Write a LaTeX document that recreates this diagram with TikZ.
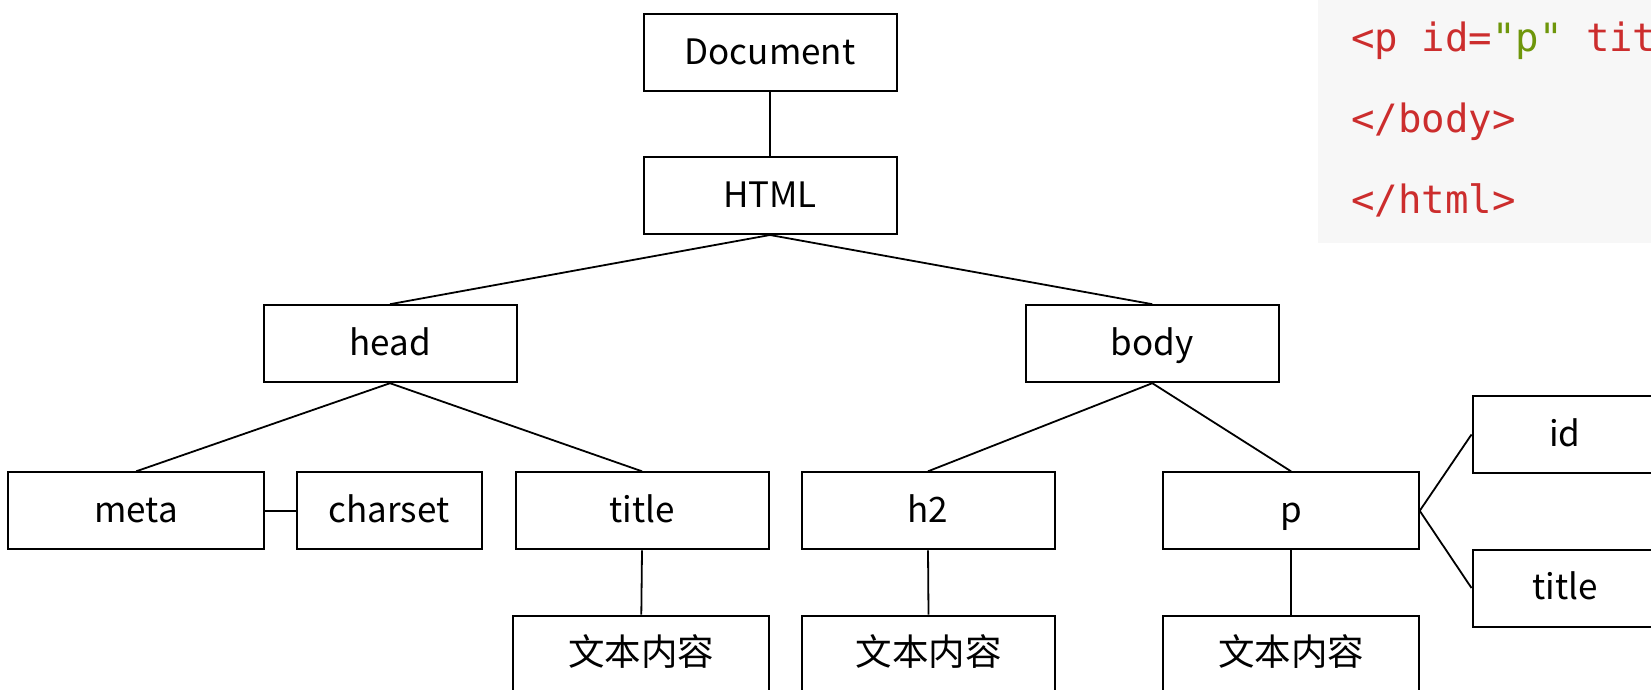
\documentclass[tikz,border=0pt]{standalone}
\usepackage{fontspec}
\setmainfont{Noto Sans CJK SC}
\newfontfamily\codefont{DejaVu Sans Mono}
\definecolor{codebg}{RGB}{247,247,247}
\definecolor{codered}{RGB}{204,45,45}
\definecolor{codegreen}{RGB}{110,150,10}
\begin{document}
\begin{tikzpicture}[x=1pt,y=-1pt,
  tbox/.style={draw=black,line width=2pt,fill=white,inner sep=0pt,
    minimum width=253pt,minimum height=77pt,
    font=\fontsize{35}{40}\selectfont,text height=23pt,text depth=0pt},
  sbox/.style={tbox,minimum width=185pt},
  cjkbox/.style={tbox,font=\fontsize{36.5}{40}\selectfont},
  link/.style={draw=black,line width=1.8pt},
  codetxt/.style={anchor=base west,inner sep=0pt,text=codered,
    font=\codefont\fontsize{39}{45}\selectfont}]
\useasboundingbox (0,0) rectangle (1651,690);
\clip (0,0) rectangle (1651,690);
\fill[white] (0,0) rectangle (1651,690);
% code panel
\fill[codebg] (1318,0) rectangle (1651,243);
\node[codetxt] (c1) at (1351,52) {<p id=\textcolor{codegreen}{"p"} tit};
\node[codetxt] (c2) at (1351,132) {</body>};
\node[codetxt] (c3) at (1351,213) {</html>};
% tree nodes
\node[tbox] (doc) at (770,53) {Document};
\node[tbox] (html) at (770,195.5) {HTML};
\node[tbox] (head) at (390,343.7) {head};
\node[tbox] (body) at (1152.3,343.7) {body};
\node[tbox,minimum width=255.7pt] (meta) at (136.2,510.8) {meta};
\node[sbox] (charset) at (389,510.8) {charset};
\node[tbox] (title) at (642,510.8) {title};
\node[tbox] (h2) at (928,510.8) {h2};
\node[tbox,minimum width=255.4pt] (p) at (1291,510.8) {p};
\node[sbox] (id) at (1565,434.5) {id};
\node[sbox] (ptitle) at (1565,588) {title};
\node[cjkbox,minimum width=256pt] (t1) at (641.3,654.2) {文本内容};
\node[cjkbox] (t2) at (928.5,654.2) {文本内容};
\node[cjkbox,minimum width=255.4pt] (t3) at (1291,654.2) {文本内容};
% connectors
\draw[link] (doc.south) -- (html.north);
\draw[link] (html.south) -- (head.north);
\draw[link] (html.south) -- (body.north);
\draw[link] (head.south) -- (meta.north);
\draw[link] (head.south) -- (title.north);
\draw[link] (body.south) -- (h2.north);
\draw[link] (body.south) -- (p.north);
\draw[link] (meta.east) -- (charset.west);
\draw[link] (title.south) -- (t1.north);
\draw[link] (h2.south) -- (t2.north);
\draw[link] (p.south) -- (t3.north);
\draw[link] (p.east) -- (id.west);
\draw[link] (p.east) -- (ptitle.west);
\end{tikzpicture}
\end{document}
